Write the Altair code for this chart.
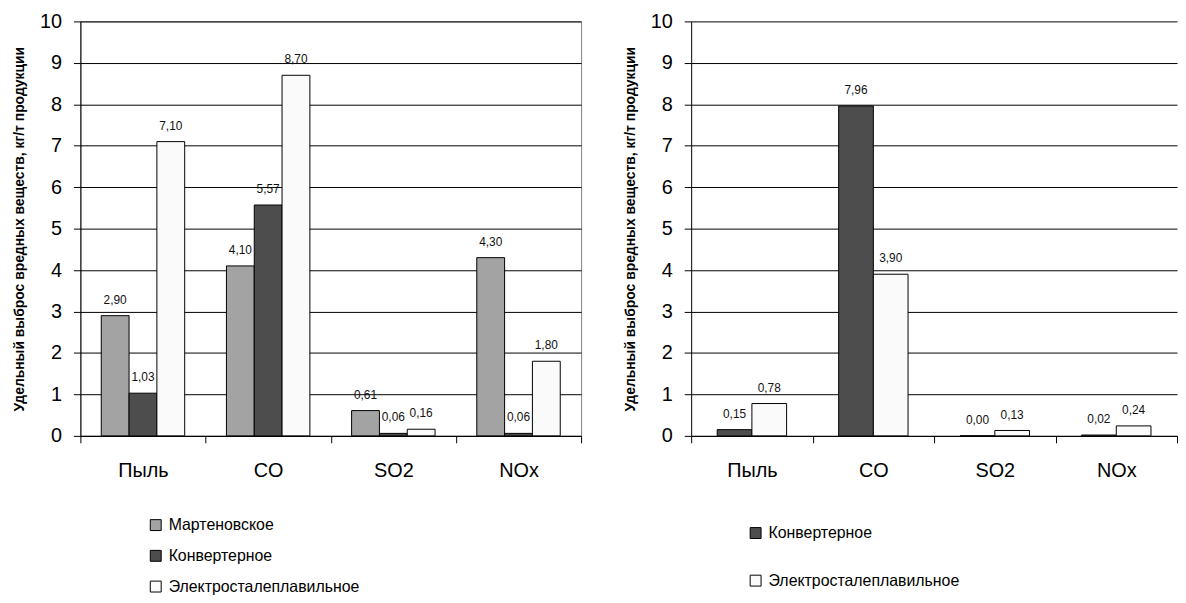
import altair as alt
import pandas as pd

substances = ["Пыль", "CO", "SO2", "NOx"]

left_series = ["Мартеновское", "Конвертерное", "Электросталеплавильное"]
left_marten = [2.90, 4.10, 0.61, 4.30]
left_konv = [1.03, 5.57, 0.06, 0.06]
left_elec = [7.10, 8.70, 0.16, 1.80]

right_series = ["Конвертерное", "Электросталеплавильное"]
right_konv = [0.15, 7.96, 0.00, 0.02]
right_elec = [0.78, 3.90, 0.13, 0.24]

y_ticks = list(range(0, 11))
y_title = "Удельный выброс вредных веществ, кг/т продукции"
colors = {
    "Мартеновское": "#a3a3a3",
    "Конвертерное": "#4d4d4d",
    "Электросталеплавильное": "#fafafa",
}
FONT = "Liberation Sans"


def make_df(series, arrays):
    rows = []
    for s, vals in zip(series, arrays):
        for sub, v in zip(substances, vals):
            rows.append({"substance": sub, "process": s, "value": v,
                         "label": f"{v:.2f}".replace(".", ",")})
    return pd.DataFrame(rows)


left_df = make_df(left_series, [left_marten, left_konv, left_elec])
right_df = make_df(right_series, [right_konv, right_elec])


def panel(df, series, width, legend_x, legend_y, row_pad, view_stroke):
    base = alt.Chart(df).encode(
        x=alt.X("substance:N", sort=substances,
                scale=alt.Scale(paddingInner=0, paddingOuter=0),
                axis=alt.Axis(title=None, labelAngle=0, labelFontSize=20, labelFont=FONT,
                              labelColor="#000", tickBand="extent", tickSize=7,
                              tickColor="#000", domainColor="#000", labelPadding=18,
                              grid=False)),
        xOffset=alt.XOffset("process:N", sort=series,
                            scale=alt.Scale(paddingInner=0, paddingOuter=0.75)),
    )
    bars = base.mark_bar(stroke="#000", strokeWidth=1).encode(
        y=alt.Y("value:Q", scale=alt.Scale(domain=[0, 10], nice=False),
                axis=alt.Axis(values=y_ticks, title=y_title, titleFontSize=14, titleFont=FONT,
                              titleFontWeight="bold", titleColor="#000", titlePadding=13,
                              labelFontSize=20, labelFont=FONT, labelColor="#000",
                              labelPadding=12, tickSize=7, tickColor="#000",
                              domainColor="#000", grid=True, gridColor="#000", gridWidth=1)),
        color=alt.Color("process:N", sort=series,
                        scale=alt.Scale(domain=series, range=[colors[s] for s in series]),
                        legend=alt.Legend(title=None, orient="none", legendX=legend_x,
                                          legendY=legend_y, direction="vertical",
                                          symbolType="square", symbolSize=121,
                                          symbolStrokeColor="#000", symbolStrokeWidth=1,
                                          labelFontSize=16, labelFont=FONT, labelColor="#000",
                                          labelOffset=5, rowPadding=row_pad, labelLimit=400)),
    )
    text = base.mark_text(baseline="alphabetic", dy=-12, fontSize=12, font=FONT,
                          color="#111").encode(
        y=alt.Y("value:Q"), text=alt.Text("label:N"))
    return alt.layer(bars, text).properties(
        width=width, height=418, view=alt.ViewBackground(stroke=view_stroke))


left = panel(left_df, left_series, 505, 68, 500, 15, "#808080")
right = panel(right_df, right_series, 490, 57, 508, 32, "transparent")

chart = alt.hconcat(left, right, spacing=41).resolve_scale(
    color="independent", xOffset="independent"
).resolve_legend(color="independent").configure(
    padding={"left": 4, "top": 0, "right": 0, "bottom": 0}, background="white"
)

chart.save("out.html", embed_options={"renderer": "svg", "actions": False})
